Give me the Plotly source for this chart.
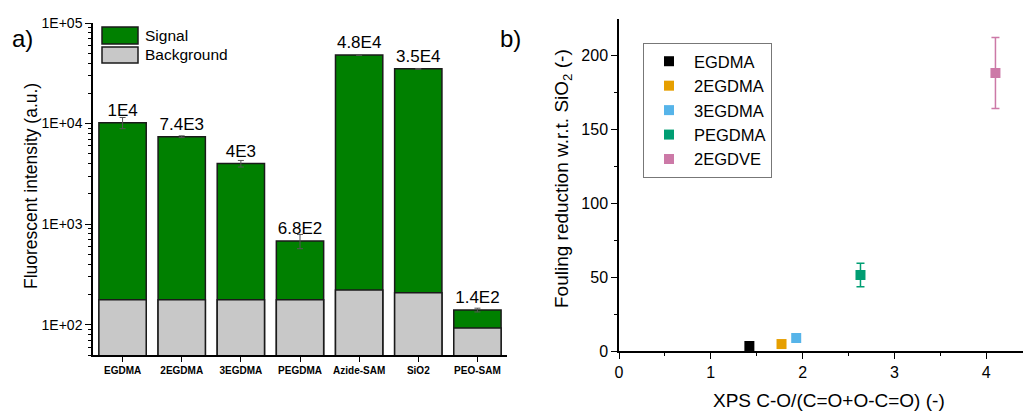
import plotly.graph_objects as go

# ---- Panel a data ----
samples = ["EGDMA", "2EGDMA", "3EGDMA", "PEGDMA", "Azide-SAM", "SiO2", "PEO-SAM"]
signal = [10200, 7400, 4000, 680, 48000, 35000, 140]
signal_err = [1300, 150, 300, 110, 300, 300, 6]
signal_labels = ["1E4", "7.4E3", "4E3", "6.8E2", "4.8E4", "3.5E4", "1.4E2"]
background = [177, 177, 177, 177, 222, 208, 93]

# ---- Panel b data ----
materials = ["EGDMA", "2EGDMA", "3EGDMA", "PEGDMA", "2EGDVE"]
xps_ratio = [1.42, 1.77, 1.93, 2.63, 4.10]
fouling_red = [3.4, 4.7, 8.8, 51.4, 188.0]
fouling_err = [0.0, 0.0, 0.0, 8.0, 24.0]
colors_b = ["#000000", "#E69F00", "#56B4E9", "#009E73", "#CC79A7"]

FONT = "Liberation Sans, Arial, sans-serif"
GREEN = "#008000"
GREY = "#c8c8c8"

fig = go.Figure()

fig.add_trace(go.Bar(
    x=samples, y=signal, name="Signal", width=0.8, showlegend=False,
    marker=dict(color=GREEN, line=dict(color="#1a1a1a", width=1.5)),
    error_y=dict(type="data", array=signal_err, color="#555555", thickness=1, width=3),
    text=signal_labels, textposition="outside", cliponaxis=False,
    textfont=dict(family=FONT, size=17, color="#000"),
    xaxis="x", yaxis="y",
))
fig.add_trace(go.Bar(
    x=samples, y=background, name="Background", width=0.8, showlegend=False,
    marker=dict(color=GREY, line=dict(color="#1a1a1a", width=1.5)),
    xaxis="x", yaxis="y",
))

for m, xv, yv, ev, c in zip(materials, xps_ratio, fouling_red, fouling_err, colors_b):
    fig.add_trace(go.Scatter(
        x=[xv], y=[yv], mode="markers", name=m,
        marker=dict(symbol="square", size=10, color=c),
        error_y=dict(type="data", array=[ev], color=c, thickness=1.5, width=4, visible=ev > 0),
        cliponaxis=False, xaxis="x2", yaxis="y2", legend="legend",
    ))

W, H = 1023, 411
def px_x(p): return p / W
def px_y(p): return 1 - p / H

# manual legend for panel a (large swatches as in the reference)
legend_a = [("Signal", GREEN, 27, 44), ("Background", GREY, 47, 63)]
shapes = []
annotations = []
for name, col, y0, y1 in legend_a:
    shapes.append(dict(type="rect", xref="paper", yref="paper",
                       x0=px_x(102), x1=px_x(138), y0=px_y(y1), y1=px_y(y0),
                       fillcolor=col, line=dict(color="#1a1a1a", width=1.5)))
    annotations.append(dict(text=name, x=px_x(143), y=px_y((y0 + y1) / 2), xref="paper", yref="paper",
                            xanchor="left", yanchor="middle", showarrow=False,
                            font=dict(size=15.5, family=FONT)))

annotations += [
    dict(text="a)", x=px_x(10), y=px_y(38), xref="paper", yref="paper",
         xanchor="left", yanchor="middle", showarrow=False, font=dict(size=24, family=FONT)),
    dict(text="b)", x=px_x(498), y=px_y(38), xref="paper", yref="paper",
         xanchor="left", yanchor="middle", showarrow=False, font=dict(size=24, family=FONT)),
    dict(text="Fluorescent intensity (a.u.)", x=px_x(31), y=px_y(186), xref="paper", yref="paper",
         xanchor="center", yanchor="middle",
         textangle=-90, showarrow=False, font=dict(size=17.5, family=FONT)),
    dict(text="Fouling reduction w.r.t. SiO<sub>2</sub> (-)", x=px_x(563), y=px_y(179),
         xref="paper", yref="paper", xanchor="center", yanchor="middle",
         textangle=-90, showarrow=False, font=dict(size=19, family=FONT)),
    dict(text="XPS C-O/(C=O+O-C=O) (-)", x=px_x(829), y=px_y(400), xref="paper", yref="paper",
         xanchor="center", yanchor="middle",
         showarrow=False, font=dict(size=19, family=FONT)),
]

fig.update_layout(
    width=W, height=H, margin=dict(l=0, r=0, t=0, b=0, autoexpand=False),
    paper_bgcolor="white", plot_bgcolor="white",
    barmode="overlay",
    font=dict(family=FONT, color="#000"),
    xaxis=dict(domain=[px_x(93), px_x(507)], range=[-0.5, 6.5], anchor="y", automargin=False,
               showline=True, linecolor="#000", linewidth=1.5, ticks="outside",
               ticklen=5, tickcolor="#000", showgrid=False,
               tickfont=dict(family=FONT, size=10, color="#000", weight="bold"),
               minor=dict(ticks="outside", ticklen=4, tickcolor="#000")),
    yaxis=dict(domain=[px_y(355), px_y(23)], type="log", range=[1.699, 5.0], anchor="x",
               automargin=False,
               showline=True, linecolor="#000", linewidth=1.5, ticks="outside",
               ticklen=6, tickcolor="#000", showgrid=False,
               tickvals=[100, 1000, 10000, 100000],
               ticktext=["1E+02", "1E+03", "1E+04", "1E+05"],
               tickfont=dict(family=FONT, size=14, color="#000"),
               minor=dict(ticks="outside", ticklen=3, tickcolor="#000", dtick="D1", showgrid=False)),
    xaxis2=dict(domain=[px_x(619), 1.0], range=[0, 4.4], anchor="y2", automargin=False,
                showline=True, linecolor="#000", linewidth=1.5, ticks="outside",
                ticklen=6, tickcolor="#000", showgrid=False, zeroline=False, dtick=1,
                tickfont=dict(family=FONT, size=16, color="#000"),
                minor=dict(ticks="outside", ticklen=3, tickcolor="#000", dtick=0.5)),
    yaxis2=dict(domain=[px_y(351), px_y(19)], range=[0, 224.5], anchor="x2", automargin=False,
                showline=True, linecolor="#000", linewidth=1.5, ticks="outside",
                ticklen=6, tickcolor="#000", showgrid=False, zeroline=False, dtick=50,
                tickfont=dict(family=FONT, size=16, color="#000"),
                minor=dict(ticks="outside", ticklen=3, tickcolor="#000", dtick=25)),
    legend=dict(x=px_x(643), y=px_y(43), xanchor="left", yanchor="top",
                bgcolor="white", bordercolor="#777", borderwidth=1,
                font=dict(family=FONT, size=16.5), itemwidth=40, tracegroupgap=0),
    shapes=shapes,
    annotations=annotations,
)

fig.write_html("out.html")
